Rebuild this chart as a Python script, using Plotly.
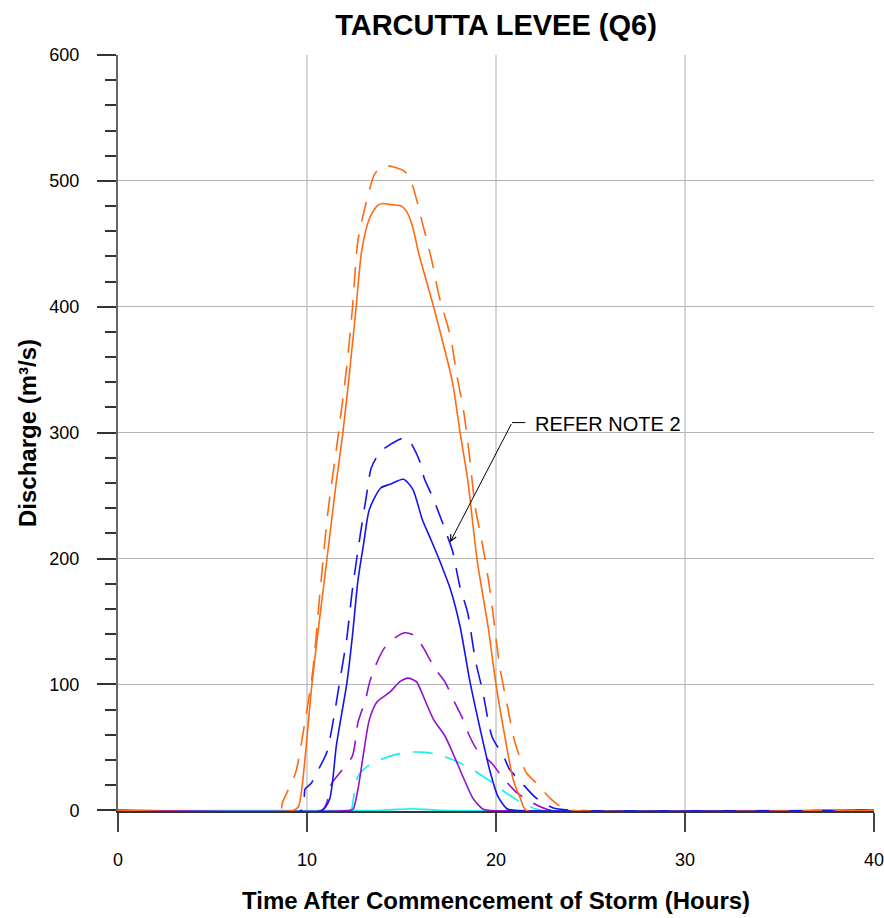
import plotly.graph_objects as go

# ---- data (time in hours, discharge in m3/s) ----
orange_solid_t = [0, 9.3, 9.55, 9.75, 10.26, 10.65, 11.06, 11.5, 11.9, 12.3, 12.6, 12.9, 13.3, 13.7, 14.0, 14.5, 15.0, 15.3, 15.6, 15.9, 16.1, 16.7, 17.2, 17.7, 18.1, 18.5, 19.0, 19.6, 20.0, 20.5, 20.9, 21.3, 21.6, 40]
orange_solid_q = [0, 0, 3, 20, 100, 150, 200, 255, 300, 355, 400, 445, 470, 480, 482, 481, 480, 475, 463, 443, 432, 400, 371, 340, 300, 263, 199, 144, 100, 56, 25, 9, 0, 0]

orange_dash_t = [0, 8.6, 8.7, 9.4, 9.8, 10.3, 10.7, 11.1, 11.6, 12.1, 12.4, 12.7, 13.2, 13.6, 14.1, 14.6, 15.2, 15.55, 16.1, 16.6, 17.0, 17.6, 17.9, 18.3, 18.6, 18.9, 19.3, 19.7, 20.2, 20.6, 21.0, 21.6, 22.1, 22.9, 23.5, 24.0, 40]
orange_dash_q = [0, 0, 6, 30, 62, 110, 175, 236, 292, 352, 398, 453, 487, 506, 512, 511, 507, 498, 467, 437, 408, 376, 348, 316, 281, 241, 210, 173, 114, 83, 54, 30, 22, 9, 2, 0, 0]

blue_solid_t = [0, 10.8, 11.2, 11.55, 11.85, 12.1, 12.4, 12.7, 13.0, 13.3, 13.9, 14.4, 15.1, 15.6, 16.1, 16.5, 17.0, 17.6, 18.1, 18.6, 19.2, 19.7, 20.1, 20.6, 21.0, 40]
blue_solid_q = [0, 0, 9, 51, 78, 100, 138, 183, 212, 239, 256, 259, 263, 255, 231, 217, 199, 175, 146, 104, 62, 30, 11, 1, 0, 0]

blue_dash_t = [0, 9.7, 9.9, 10.2, 10.7, 11.05, 11.4, 11.75, 12.1, 12.4, 12.8, 13.2, 13.4, 13.9, 14.8, 15.2, 15.45, 16.0, 16.2, 16.7, 17.4, 17.7, 18.1, 18.5, 18.9, 19.3, 19.8, 20.4, 20.7, 21.4, 22.1, 23.0, 24.0, 40]
blue_dash_q = [0, 0, 17, 21, 35, 46, 72, 104, 136, 175, 217, 255, 272, 285, 294, 296, 293, 276, 264, 247, 219, 206, 177, 157, 120, 94, 58, 43, 33, 21, 10, 2, 0, 0]

purple_solid_t = [0, 12.3, 12.45, 12.7, 13.0, 13.3, 13.7, 14.4, 14.9, 15.35, 15.8, 16.0, 16.7, 17.3, 17.7, 18.3, 18.8, 19.3, 19.6, 40]
purple_solid_q = [0, 0, 1, 17, 46, 72, 86, 94, 102, 105, 102, 96, 72, 59, 46, 25, 9, 1, 0, 0]

purple_dash_t = [0, 10.8, 11.3, 11.75, 12.4, 12.7, 13.1, 13.3, 13.6, 14.1, 14.75, 15.2, 15.8, 16.0, 16.2, 16.8, 17.3, 17.8, 18.2, 18.6, 19.0, 19.8, 20.3, 21.1, 21.8, 22.9, 40]
purple_dash_q = [0, 0, 21, 30, 43, 70, 88, 101, 114, 129, 138, 141, 138, 133, 128, 112, 102, 86, 74, 59, 48, 37, 27, 14, 7, 0, 0]

cyan_dash_t = [0, 12.3, 12.45, 12.7, 13.3, 14.4, 15.3, 16.3, 17.2, 18.3, 19.0, 19.9, 20.6, 21.6, 22.4, 40]
cyan_dash_q = [0, 0, 9, 27, 36, 43, 46, 46, 43, 36, 30, 21, 13, 4, 0, 0]

cyan_solid_t = [0, 14.0, 15.5, 17.0, 40]
cyan_solid_q = [0, 0, 1.2, 0, 0]

x_ticks = [0, 10, 20, 30, 40]
y_ticks = [0, 100, 200, 300, 400, 500, 600]

ORANGE = "#FF6A13"
BLUE = "#1414F0"
PURPLE = "#9410CC"
CYAN = "#14F0F0"
DASH = "20px,13px"
FONT = "Arial, 'Liberation Sans', sans-serif"

series = [
    (cyan_solid_t, cyan_solid_q, CYAN, "solid"),
    (cyan_dash_t, cyan_dash_q, CYAN, DASH),
    (purple_solid_t, purple_solid_q, PURPLE, "solid"),
    (purple_dash_t, purple_dash_q, PURPLE, DASH),
    (blue_solid_t, blue_solid_q, BLUE, "solid"),
    (blue_dash_t, blue_dash_q, BLUE, DASH),
    (orange_solid_t, orange_solid_q, ORANGE, "solid"),
    (orange_dash_t, orange_dash_q, ORANGE, DASH),
]

fig = go.Figure()
for t, q, c, d in series:
    fig.add_trace(go.Scatter(x=t, y=q, mode="lines",
                             line=dict(color=c, width=1.6, dash=d, shape="spline", smoothing=0.7),
                             showlegend=False, hoverinfo="skip"))

W, H = 884, 918
fig.update_layout(
    width=W, height=H,
    margin=dict(l=118, r=10, t=55, b=107, autoexpand=False),
    paper_bgcolor="white", plot_bgcolor="white",
    font=dict(family=FONT, color="black"),
    title=dict(text="<b>TARCUTTA LEVEE (Q6)</b>", x=0.5, xref="paper",
               y=1 - 25 / H, yref="container", yanchor="middle", automargin=False,
               font=dict(size=29, family=FONT, color="black")),
    showlegend=False,
)

fig.update_xaxes(
    range=[0, 40.001], tickvals=x_ticks, ticktext=[str(v) for v in x_ticks],
    showgrid=True, gridcolor="#D6D6D6", gridwidth=2,
    showline=True, linecolor="#333333", linewidth=2,
    ticks="outside", ticklen=19, tickwidth=2, tickcolor="#444444",
    tickfont=dict(size=18, family=FONT, color="black"),
    ticklabelstandoff=12, ticklabeloverflow="allow", zeroline=False, automargin=False,
)
fig.update_yaxes(
    range=[-0.6, 600.05], tickvals=y_ticks, ticktext=[str(v) for v in y_ticks],
    showgrid=True, gridcolor="#B4B4B4", gridwidth=1,
    showline=True, linecolor="#666666", linewidth=2,
    ticks="outside", ticklen=19, tickwidth=2, tickcolor="#333333",
    tickfont=dict(size=18, family=FONT, color="black"),
    ticklabelstandoff=14, ticklabeloverflow="allow", zeroline=False, automargin=False,
    minor=dict(dtick=20, tick0=0, ticks="outside", ticklen=11, tickwidth=2,
               tickcolor="#333333", showgrid=False),
)

# axis titles
fig.add_annotation(text="<b>Time After Commencement of Storm (Hours)</b>",
                   xref="paper", yref="paper", x=0.5, y=0, yshift=-89,
                   xanchor="center", yanchor="middle", showarrow=False,
                   font=dict(size=24, family=FONT, color="black"))
fig.add_annotation(text="<b>Discharge (m³/s)</b>",
                   xref="paper", yref="paper", x=0, y=0.5, xshift=-91,
                   xanchor="center", yanchor="middle", textangle=-90, showarrow=False,
                   font=dict(size=24, family=FONT, color="black"))

# note annotation
fig.add_shape(type="line", xref="x", yref="y", x0=20.85, y0=308, x1=21.55, y1=308,
              line=dict(color="black", width=1))
fig.add_annotation(x=17.57, y=213, ax=20.85, ay=308, xref="x", yref="y",
                   axref="x", ayref="y", text="", showarrow=True,
                   arrowhead=5, arrowsize=1.2, arrowwidth=1, arrowcolor="black")
fig.add_annotation(text="REFER NOTE 2", x=21.95, y=307, xref="x", yref="y",
                   xanchor="left", yanchor="middle", showarrow=False,
                   font=dict(size=20, family=FONT, color="black"))

# remove the default page margin so the 884x918 figure fills the window exactly
fig.write_html("out.html",
               config={"displayModeBar": False, "staticPlot": True},
               post_script="document.body.style.margin='0';document.body.style.overflow='hidden';")
